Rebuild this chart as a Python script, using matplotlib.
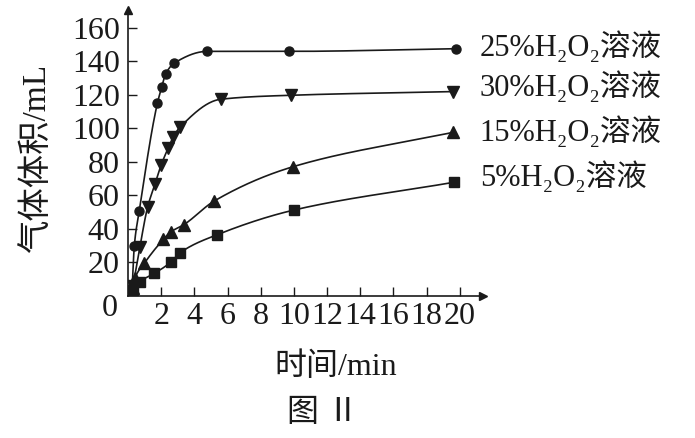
import numpy as np
import matplotlib
matplotlib.use('Agg')
import matplotlib.pyplot as plt

plt.rcParams['font.family'] = ['Liberation Serif', 'Noto Sans CJK SC', 'DejaVu Serif']

# data
x25 = [0.25, 0.38, 0.68, 1.77, 2.03, 2.27, 2.79, 4.78, 9.72, 19.8]
y25 = [5, 30, 51, 115, 124.6, 132.5, 139, 146, 146, 147.6]
x30 = [0.3, 0.72, 1.18, 1.63, 1.99, 2.43, 2.73, 3.13, 5.58, 9.8, 19.6]
y30 = [6, 29.5, 53, 67, 78, 88.5, 95, 100.7, 117.4, 119.8, 122]
x15 = [0.3, 0.42, 0.98, 2.13, 2.57, 3.37, 5.2, 9.96, 19.6]
y15 = [5, 10.7, 19.5, 33.8, 38.2, 42.6, 56.7, 77.2, 97.7]
x5 = [0.32, 0.72, 1.59, 2.57, 3.15, 5.38, 10.0, 19.66]
y5 = [3.6, 8.6, 13.5, 20.1, 25.9, 36.6, 51.3, 67.9]

labels = ['25%H₂O₂溶液', '30%H₂O₂溶液', '15%H₂O₂溶液', '5%H₂O₂溶液']
label_y = [148.7, 124.8, 97.9, 71]


def pchip(x, y, xs):
    # monotone cubic through the points, only for drawing a smooth line
    x = np.asarray(x, float)
    y = np.asarray(y, float)
    h = np.diff(x)
    d = np.diff(y) / h
    m = np.zeros_like(y)
    for i in range(1, len(x) - 1):
        if d[i - 1] * d[i] > 0:
            w1 = 2 * h[i] + h[i - 1]
            w2 = h[i] + 2 * h[i - 1]
            m[i] = (w1 + w2) / (w1 / d[i - 1] + w2 / d[i])
    m[0] = d[0]
    m[-1] = d[-1]
    out = np.empty_like(xs)
    for j, xv in enumerate(xs):
        i = min(max(np.searchsorted(x, xv) - 1, 0), len(x) - 2)
        t = (xv - x[i]) / h[i]
        h00 = 2 * t**3 - 3 * t**2 + 1
        h10 = t**3 - 2 * t**2 + t
        h01 = -2 * t**3 + 3 * t**2
        h11 = t**3 - t**2
        out[j] = h00 * y[i] + h10 * h[i] * m[i] + h01 * y[i + 1] + h11 * h[i] * m[i + 1]
    return out


fig = plt.figure(figsize=(6.95, 4.38), dpi=100)
ax = fig.add_axes([0.1842, 0.3242, 0.5108, 0.653])

c = '#1a1a1a'
series = [(x25, y25, 'o', 6.5), (x30, y30, 'v', 8), (x15, y15, '^', 8), (x5, y5, 's', 6.5)]
for (xs, ys, mk, ms), lab, ly in zip(series, labels, label_y):
    xx = np.linspace(xs[0], xs[-1], 400)
    ax.plot(xx, pchip(xs, ys, xx), color=c, lw=1.2)
    ax.plot(xs, ys, mk, color=c, ms=ms, mec=c)
    ax.text(21.2, ly, lab, fontsize=22, va='center', ha='left', color=c, clip_on=False)

ax.set_xlim(0, 21.4)
ax.set_ylim(0, 170.7)
ax.set_xticks(np.arange(2, 21, 2))
ax.set_yticks(np.arange(20, 161, 20))
ax.tick_params(direction='in', length=6.5, width=1, labelsize=23, colors=c)
ax.tick_params(axis='x', pad=4)
ax.tick_params(axis='y', pad=6)
for s in ['top', 'right']:
    ax.spines[s].set_visible(False)
for s in ['left', 'bottom']:
    ax.spines[s].set_linewidth(1.2)
    ax.spines[s].set_color(c)
ax.plot(1, 0, '>', color=c, ms=6, transform=ax.get_yaxis_transform(), clip_on=False)
ax.plot(0, 1, '^', color=c, ms=6, transform=ax.get_xaxis_transform(), clip_on=False)

fig.text(110 / 695, 1 - 309 / 438, '0', fontsize=23, ha='center', va='center', color=c)
fig.text(37 / 695, 1 - 158 / 438, '气体体积/mL', fontsize=24, rotation=90,
         ha='center', va='center', color=c)
fig.text(336 / 695, 1 - 367 / 438, '时间/min', fontsize=23, ha='center', va='center', color=c)
fig.text(323 / 695, 1 - 413 / 438, '图 Ⅱ', fontsize=23, ha='center', va='center', color=c)

fig.savefig('out.png', dpi=100)
